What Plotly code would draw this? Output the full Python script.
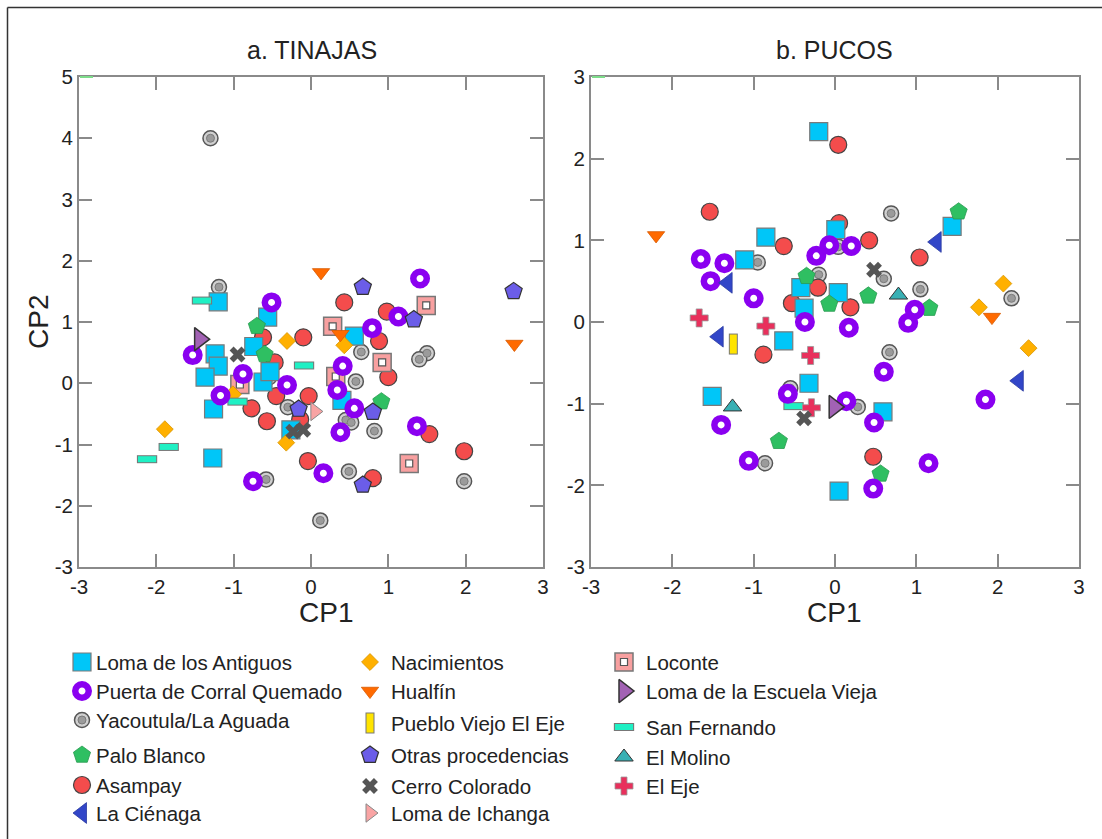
import plotly.graph_objects as go

W, H = 1102, 839

# ---------------- Panel a: TINAJAS (CP1, CP2) ----------------
antiguos_a = [(-1.20, 1.33), (-0.56, 1.08), (-0.74, 0.60), (-1.24, 0.48), (-1.20, 0.28), (-1.37, 0.10),
              (-0.62, 0.02), (-0.53, 0.19), (-1.26, -0.42), (-1.27, -1.22), (-0.26, -0.76), (0.56, 0.77),
              (0.40, -0.28)]
puerta_a = [(-0.51, 1.32), (1.41, 1.71), (1.13, 1.09), (0.79, 0.90), (0.41, 0.28), (-0.31, -0.03),
            (0.34, -0.11), (0.56, -0.41), (0.38, -0.80), (1.37, -0.70), (0.16, -1.47), (-1.53, 0.46),
            (-0.88, 0.15), (-1.17, -0.20), (-0.75, -1.60)]
yacoutula_a = [(-1.30, 4.00), (-1.19, 1.57), (0.65, 0.51), (1.50, 0.49), (1.40, 0.39), (-0.54, 0.10),
               (0.58, 0.03), (-0.30, -0.39), (0.45, -0.60), (0.52, -0.64), (0.82, -0.78), (0.49, -1.44),
               (1.98, -1.60), (0.12, -2.24), (-0.58, -1.57)]
palo_a = [(-0.70, 0.93), (-0.60, 0.47), (0.91, -0.30)]
asampay_a = [(0.43, 1.32), (0.98, 1.17), (-0.10, 0.75), (0.88, 0.69), (-0.47, 0.34), (1.00, 0.10),
             (-0.45, -0.21), (-0.03, -0.21), (-0.57, -0.62), (-0.14, -0.59), (1.53, -0.83), (1.98, -1.11),
             (-0.04, -1.27), (0.80, -1.55), (-0.62, 0.75), (-0.77, -0.41)]
nacimientos_a = [(-1.89, -0.75), (-0.31, 0.69), (-1.01, -0.18), (-0.32, -0.97), (0.43, 0.62)]
hualfin_a = [(0.13, 1.81), (0.38, 0.80), (2.63, 0.64)]
otras_a = [(0.67, 1.57), (1.33, 1.04), (2.62, 1.50), (-0.16, -0.42), (0.80, -0.47), (0.67, -1.66)]
cerro_a = [(-0.95, 0.47), (-0.23, -0.79), (-0.10, -0.76)]
ichanga_a = [(0.05, -0.46)]
loconte_a = [(1.49, 1.27), (0.28, 0.93), (0.92, 0.34), (0.32, 0.11), (1.27, -1.31), (-0.92, -0.02)]
escuela_a = [(-1.44, 0.72)]
sanfernando_a = [(-1.41, 1.35), (-0.09, 0.29), (-2.12, -1.24), (-1.84, -1.04), (-0.95, -0.30)]

# ---------------- Panel b: PUCOS (CP1, CP2) ----------------
antiguos_b = [(-0.20, 2.33), (0.01, 1.13), (-0.85, 1.04), (-1.11, 0.76), (-0.42, 0.42), (-0.38, 0.17),
              (0.04, 0.36), (-0.63, -0.23), (-0.32, -0.75), (-1.51, -0.91), (0.59, -1.10), (0.05, -2.07),
              (1.44, 1.17)]
puerta_b = [(-1.65, 0.77), (-1.36, 0.72), (-1.53, 0.50), (-1.00, 0.29), (-0.23, 0.81), (-0.07, 0.94),
            (0.20, 0.93), (-0.37, 0.00), (0.17, -0.07), (0.98, 0.15), (0.90, -0.01), (0.60, -0.61),
            (-0.58, -0.88), (-1.40, -1.26), (0.14, -0.97), (0.48, -1.23), (-1.06, -1.70), (0.47, -2.04),
            (1.15, -1.73), (1.85, -0.95)]
yacoutula_b = [(-0.95, 0.73), (0.04, 0.92), (-0.20, 0.58), (0.69, 1.33), (0.60, 0.53), (1.05, 0.40),
               (2.17, 0.29), (0.67, -0.37), (-0.55, -0.81), (0.28, -1.04), (-0.86, -1.73)]
palo_b = [(-0.35, 0.56), (-0.07, 0.22), (0.41, 0.32), (1.16, 0.17), (1.52, 1.35), (-0.69, -1.46),
          (0.56, -1.86)]
asampay_b = [(0.04, 2.17), (-1.54, 1.35), (-0.63, 0.93), (0.05, 1.21), (-0.21, 0.42), (-0.53, 0.23),
             (0.19, 0.18), (0.42, 1.00), (1.04, 0.79), (-0.88, -0.40), (0.47, -1.65)]
cienaga_b = [(-1.32, 0.48), (-1.43, -0.18), (1.25, 0.98), (2.26, -0.72)]
nacimientos_b = [(2.07, 0.47), (1.77, 0.18), (2.38, -0.32)]
hualfin_b = [(-2.20, 1.06), (1.93, 0.06)]
pueblo_b = [(-1.25, -0.27)]
cerro_b = [(0.48, 0.64), (-0.38, -1.18)]
escuela_b = [(-0.01, -1.04)]
sanfernando_b = [(-0.51, -1.03)]
molino_b = [(0.78, 0.33), (-1.26, -1.04)]
eleje_b = [(-1.67, 0.05), (-0.85, -0.05), (-0.30, -0.41), (-0.29, -1.05)]

x_ticks = [-3, -2, -1, 0, 1, 2, 3]
y_ticks_a = [-3, -2, -1, 0, 1, 2, 3, 4, 5]
y_ticks_b = [-3, -2, -1, 0, 1, 2, 3]

# legend: (name, column, row)
legend_items = [
    ("Loma de los Antiguos", 0, 0), ("Puerta de Corral Quemado", 0, 1), ("Yacoutula/La Aguada", 0, 2),
    ("Palo Blanco", 0, 3), ("Asampay", 0, 4), ("La Ciénaga", 0, 5),
    ("Nacimientos", 1, 0), ("Hualfín", 1, 1), ("Pueblo Viejo El Eje", 1, 2),
    ("Otras procedencias", 1, 3), ("Cerro Colorado", 1, 4), ("Loma de Ichanga", 1, 5),
    ("Loconte", 2, 0), ("Loma de la Escuela Vieja", 2, 1), ("San Fernando", 2, 2),
    ("El Molino", 2, 3), ("El Eje", 2, 4),
]

# ---------------- styles ----------------
STY = {
    "Loma de los Antiguos": [dict(symbol="square", size=18, color="#00c6f8", line=dict(color="#7a7a7a", width=1.2))],
    "Puerta de Corral Quemado": [dict(symbol="circle", size=13.5, color="white", line=dict(color="#8a00f0", width=6.5))],
    "Yacoutula/La Aguada": [dict(symbol="circle", size=15, color="#d0d0d0", line=dict(color="#555555", width=1.5)),
                            dict(symbol="circle", size=8, color="#9b9b9b", line=dict(color="#7a7a7a", width=1))],
    "Palo Blanco": [dict(symbol="pentagon", size=18, color="#2fbf62", line=dict(color="#2a9a50", width=0.8))],
    "Asampay": [dict(symbol="circle", size=17, color="#f44c4c", line=dict(color="#444444", width=1.2))],
    "La Ciénaga": [dict(symbol="triangle-left", size=18, color="#3246c8", line=dict(color="#2a3aa0", width=0.8))],
    "Nacimientos": [dict(symbol="diamond", size=13, color="#ffb000", line=dict(color="#d89400", width=0.8))],
    "Hualfín": [dict(symbol="triangle-down", size=15, color="#ff6a00", line=dict(color="#d85a00", width=0.8))],
    "Pueblo Viejo El Eje": [dict(symbol="line-ns", size=15, line=dict(color="#777777", width=9)),
                            dict(symbol="line-ns", size=13.6, line=dict(color="#ffe400", width=7))],
    "Otras procedencias": [dict(symbol="pentagon", size=18, color="#6b5de8", line=dict(color="#333333", width=1.2))],
    "Cerro Colorado": [dict(symbol="x", size=14, color="#555555", line=dict(width=0))],
    "Loma de Ichanga": [dict(symbol="triangle-right", size=16, color="#f9a4a4", line=dict(color="#888888", width=1))],
    "Loconte": [dict(symbol="square", size=18, color="#f8a0a0", line=dict(color="#777777", width=1.5)),
                dict(symbol="square", size=7, color="white", line=dict(color="#555555", width=1.2))],
    "Loma de la Escuela Vieja": [dict(symbol="triangle-right", size=20, color="#a262b4", line=dict(color="#333333", width=1.5))],
    "San Fernando": [dict(symbol="line-ew", size=14.5, line=dict(color="#777777", width=8)),
                     dict(symbol="line-ew", size=13, line=dict(color="#1ff0c4", width=6))],
    "El Molino": [dict(symbol="triangle-up", size=16, color="#38b0b4", line=dict(color="#333333", width=1))],
    "El Eje": [dict(symbol="cross", size=15, color="#e8305c", line=dict(color="#999999", width=0.8))],
}

panel_a = [
    ("Yacoutula/La Aguada", yacoutula_a), ("Asampay", asampay_a), ("Loma de los Antiguos", antiguos_a),
    ("Loconte", loconte_a), ("Palo Blanco", palo_a), ("Nacimientos", nacimientos_a),
    ("San Fernando", sanfernando_a), ("Puerta de Corral Quemado", puerta_a),
    ("Otras procedencias", otras_a), ("Hualfín", hualfin_a), ("Cerro Colorado", cerro_a),
    ("Loma de Ichanga", ichanga_a), ("Loma de la Escuela Vieja", escuela_a),
]
panel_b = [
    ("Yacoutula/La Aguada", yacoutula_b), ("Asampay", asampay_b), ("Loma de los Antiguos", antiguos_b),
    ("Palo Blanco", palo_b), ("Nacimientos", nacimientos_b), ("San Fernando", sanfernando_b),
    ("Puerta de Corral Quemado", puerta_b), ("Hualfín", hualfin_b), ("La Ciénaga", cienaga_b),
    ("El Molino", molino_b), ("El Eje", eleje_b), ("Pueblo Viejo El Eje", pueblo_b),
    ("Cerro Colorado", cerro_b), ("Loma de la Escuela Vieja", escuela_b),
]

fig = go.Figure()


def add_series(name, pts, xa, ya):
    xs = [p[0] for p in pts]
    ys = [p[1] for p in pts]
    for m in STY[name]:
        fig.add_trace(go.Scatter(x=xs, y=ys, mode="markers", name=name, marker=m, cliponaxis=False,
                                 xaxis=xa, yaxis=ya, showlegend=False, hoverinfo="skip"))


for nm, pts in panel_a:
    add_series(nm, pts, "x", "y")
for nm, pts in panel_b:
    add_series(nm, pts, "x2", "y2")

# legend built on an overlay axis in pixel units
col_marker_x = [82, 370, 624]
col_text_x = [94, 389, 644]
col_rows_y = [[662, 691, 720, 755, 785, 813], [662, 691, 723, 755, 786, 813], [662, 691, 727, 757, 786]]
FONT = "Liberation Sans, Arial, sans-serif"
annotations = []
for nm, c, r in legend_items:
    add_series(nm, [(col_marker_x[c], col_rows_y[c][r])], "x3", "y3")
    annotations.append(dict(x=col_text_x[c], y=col_rows_y[c][r], xref="x3", yref="y3", text=nm,
                            showarrow=False, xanchor="left", yanchor="middle",
                            font=dict(family=FONT, size=20.5, color="#222222")))

# titles and axis labels
for txt, x, y, size, ang in [("a. TINAJAS", 312, 50, 25, 0), ("b. PUCOS", 834, 50, 25, 0),
                             ("CP1", 326, 612, 28, 0), ("CP1", 834, 612, 28, 0), ("CP2", 38, 322, 28, -90)]:
    annotations.append(dict(x=x, y=y, xref="x3", yref="y3", text=txt, showarrow=False,
                            xanchor="center", yanchor="middle", textangle=ang,
                            font=dict(family=FONT, size=size, color="#222222")))

ax = dict(showline=True, linecolor="#8a8a8a", linewidth=2, mirror="ticks", ticks="inside", ticklen=13,
          tickwidth=1.5, tickcolor="#8a8a8a", showgrid=False, zeroline=False, automargin=False,
          tickfont=dict(family=FONT, size=20.5, color="#222222"), tickmode="array")


def tk(vals):
    return dict(tickvals=vals, ticktext=[str(v) for v in vals])


fig.update_layout(
    width=W, height=H, margin=dict(l=0, r=0, t=0, b=0, pad=0, autoexpand=False), autosize=False,
    paper_bgcolor="white", plot_bgcolor="rgba(0,0,0,0)", showlegend=False,
    xaxis=dict(ax, domain=[79 / W, 543 / W], range=[-3, 3], anchor="y", **tk(x_ticks)),
    yaxis=dict(ax, domain=[1 - 567 / H, 1 - 77 / H], range=[-3, 5], anchor="x", **tk(y_ticks_a)),
    xaxis2=dict(ax, domain=[591 / W, 1079 / W], range=[-3, 3], anchor="y2", **tk(x_ticks)),
    yaxis2=dict(ax, domain=[1 - 567 / H, 1 - 77 / H], range=[-3, 3], anchor="x2", **tk(y_ticks_b)),
    xaxis3=dict(domain=[0, 1], range=[0, W], anchor="y3", visible=False, fixedrange=True, automargin=False),
    yaxis3=dict(domain=[0, 1], range=[H, 0], anchor="x3", visible=False, fixedrange=True, automargin=False),
    annotations=annotations,
    shapes=[
        dict(type="line", xref="x3", yref="y3", x0=7.5, y0=H, x1=7.5, y1=7.5, line=dict(color="#333333", width=1.5)),
        dict(type="line", xref="x3", yref="y3", x0=7.5, y0=7.5, x1=W, y1=7.5, line=dict(color="#333333", width=1.5)),
        dict(type="line", xref="x3", yref="y3", x0=80, y0=77, x1=93, y1=77, line=dict(color="#7ddc8a", width=2)),
        dict(type="line", xref="x3", yref="y3", x0=592, y0=77, x1=605, y1=77, line=dict(color="#7ddc8a", width=2)),
    ],
)

fig.write_html("out.html", config={"responsive": False, "displayModeBar": False},
               post_script="document.body.style.margin='0';document.body.style.padding='0';"
                           "document.body.style.overflow='hidden';")
